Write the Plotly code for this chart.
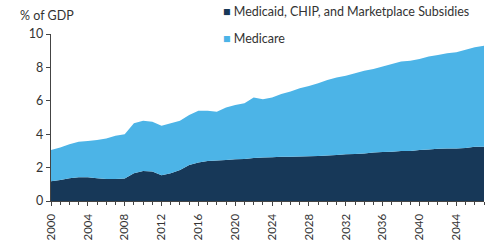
import plotly.graph_objects as go

years = list(range(2000, 2048))
medicaid = [1.18, 1.26, 1.36, 1.42, 1.42, 1.36, 1.32, 1.32, 1.34, 1.66,
            1.80, 1.76, 1.54, 1.66, 1.86, 2.15, 2.30, 2.40, 2.42, 2.45,
            2.50, 2.52, 2.57, 2.60, 2.62, 2.65, 2.65, 2.67, 2.68, 2.70,
            2.73, 2.75, 2.80, 2.82, 2.85, 2.90, 2.93, 2.95, 3.00, 3.00,
            3.05, 3.08, 3.13, 3.15, 3.15, 3.18, 3.25, 3.25]
medicare = [1.87, 1.94, 2.04, 2.13, 2.18, 2.29, 2.43, 2.58, 2.66, 2.99,
            3.00, 2.99, 2.96, 2.99, 2.94, 3.00, 3.10, 3.00, 2.93, 3.15,
            3.25, 3.33, 3.63, 3.50, 3.58, 3.75, 3.90, 4.08, 4.20, 4.35,
            4.52, 4.65, 4.70, 4.83, 4.95, 5.00, 5.12, 5.25, 5.35, 5.40,
            5.45, 5.57, 5.62, 5.70, 5.75, 5.87, 5.95, 6.05]
x_tick_vals = list(range(2000, 2048, 4))
y_tick_vals = [0, 2, 4, 6, 8, 10]
series_names = ["Medicaid, CHIP, and Marketplace Subsidies", "Medicare"]
colors = ["#173858", "#4cb4e7"]

fig = go.Figure()
fig.add_trace(go.Scatter(x=years, y=medicaid, stackgroup="one", mode="none",
                         fillcolor=colors[0], name=series_names[0], showlegend=False))
fig.add_trace(go.Scatter(x=years, y=medicare, stackgroup="one", mode="none",
                         fillcolor=colors[1], name=series_names[1], showlegend=False))

font = dict(family="Lato, Open Sans, sans-serif", size=12.5, color="#333333")

fig.update_layout(
    width=485, height=245,
    margin=dict(l=51, r=1, t=34, b=44),
    paper_bgcolor="white", plot_bgcolor="white",
    font=font,
    showlegend=False,
    xaxis=dict(range=[2000, 2047], tickvals=x_tick_vals, ticktext=[str(v) for v in x_tick_vals],
               tickangle=-90, ticks="outside", ticklen=4, tickcolor="#444",
               ticklabelstandoff=3,
               showline=True, linecolor="#444", linewidth=1.2, showgrid=False, zeroline=False,
               minor=dict(dtick=1, ticks="outside", ticklen=3, tickcolor="#444"),
               tickfont=dict(size=11.5)),
    yaxis=dict(range=[0, 10], tickvals=y_tick_vals, ticks="outside", ticklen=4, tickcolor="#444",
               showline=True, linecolor="#444", linewidth=1.2, showgrid=False, zeroline=False,
               tickfont=dict(size=12.5)),
    annotations=[
        dict(text="% of GDP", xref="paper", yref="paper", x=-0.077, y=1.11,
             xanchor="left", yanchor="middle", showarrow=False, font=font),
        dict(text="<span style='color:%s'>■</span> %s" % (colors[0], series_names[0]),
             xref="paper", yref="paper", x=0.393, y=1.132, xanchor="left", yanchor="middle",
             showarrow=False, font=font),
        dict(text="<span style='color:%s'>■</span> %s" % (colors[1], series_names[1]),
             xref="paper", yref="paper", x=0.393, y=0.976, xanchor="left", yanchor="middle",
             showarrow=False, font=font),
    ],
)

fig.write_html("out.html",
               config={"displayModeBar": False, "staticPlot": True},
               post_script="document.body.style.margin='0';document.body.style.overflow='hidden';")
